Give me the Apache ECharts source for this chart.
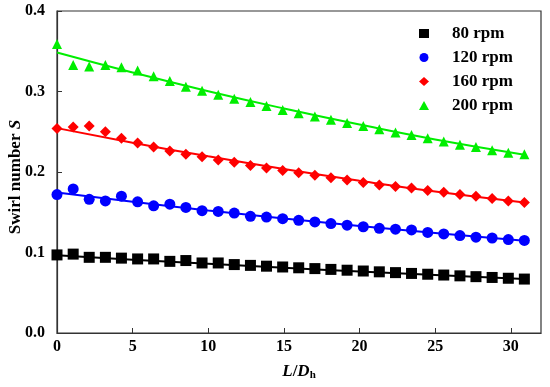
<!DOCTYPE html>
<html>
<head>
<meta charset="utf-8">
<script src="https://cdn.jsdelivr.net/npm/echarts@6/dist/echarts.min.js"></script>
<style>html,body{margin:0;padding:0;background:#fff;}#c{width:550px;height:387px;}</style>
</head>
<body>
<div id="c"></div>
<script>
const xs = [0, 1.07, 2.13, 3.2, 4.26, 5.33, 6.39, 7.46, 8.52, 9.59, 10.66, 11.72, 12.79, 13.85, 14.92, 15.98, 17.05, 18.11, 19.18, 20.25, 21.31, 22.38, 23.44, 24.51, 25.57, 26.64, 27.7, 28.77, 29.84, 30.9];
const s80 = [0.097,0.098,0.094,0.094,0.093,0.092,0.092,0.089,0.090,0.087,0.087,0.085,0.084,0.083,0.082,0.081,0.080,0.079,0.078,0.077,0.076,0.075,0.074,0.073,0.072,0.071,0.070,0.069,0.068,0.067];
const s120 = [0.172,0.179,0.166,0.164,0.170,0.163,0.158,0.160,0.156,0.152,0.151,0.149,0.145,0.144,0.142,0.140,0.138,0.136,0.134,0.132,0.130,0.129,0.128,0.125,0.123,0.121,0.119,0.118,0.116,0.115];
const s160 = [0.254,0.256,0.257,0.250,0.242,0.236,0.231,0.226,0.222,0.219,0.215,0.212,0.208,0.205,0.202,0.199,0.196,0.193,0.190,0.187,0.184,0.182,0.180,0.177,0.175,0.172,0.170,0.167,0.164,0.162];
const s200 = [0.359,0.333,0.331,0.333,0.330,0.326,0.319,0.313,0.306,0.301,0.296,0.291,0.287,0.282,0.277,0.273,0.269,0.265,0.261,0.257,0.253,0.249,0.246,0.242,0.238,0.234,0.231,0.227,0.224,0.222];

const fitX = [0, 5, 10, 15, 20, 25, 30.9];
const fit80 = [0.0965, 0.0910, 0.0859, 0.0810, 0.0765, 0.0721, 0.0672];
const fit120 = [0.1745, 0.1630, 0.1523, 0.1423, 0.1329, 0.1242, 0.1146];
const fit160 = [0.2545, 0.2364, 0.2195, 0.2038, 0.1892, 0.1757, 0.1620];
const fit200 = [0.3485, 0.3236, 0.3004, 0.2789, 0.2589, 0.2404, 0.2215];

const names = ['80 rpm', '120 rpm', '160 rpm', '200 rpm'];
const colors = ['#000000', '#0000ff', '#ff0000', '#00ee00'];
const symbols = ['rect', 'circle', 'diamond', 'triangle'];
const symSizes = [11, 11, 11, 10];
const dataSets = [s80, s120, s160, s200];
const fits = [fit80, fit120, fit160, fit200];

const serif = '"Liberation Serif", "Times New Roman", serif';
const series = [];
for (let k = 0; k < 4; k++) {
  series.push({
    name: names[k] + ' fit', type: 'line', data: fitX.map((x, i) => [x, fits[k][i]]),
    smooth: true, showSymbol: false, symbol: 'none', silent: true,
    lineStyle: { color: colors[k], width: 2 }, z: 2
  });
}
for (let k = 0; k < 4; k++) {
  series.push({
    name: names[k], type: 'scatter', data: xs.map((x, i) => [x, dataSets[k][i]]),
    symbol: symbols[k], symbolSize: symSizes[k],
    itemStyle: { color: colors[k], opacity: 1 }, z: 3
  });
}

const chart = echarts.init(document.getElementById('c'), null, { renderer: 'canvas' });
chart.setOption({
  animation: false,
  backgroundColor: '#fff',
  grid: { left: 57, right: 9, top: 11, bottom: 54, containLabel: false, outerBoundsMode: 'none',
    show: true, borderColor: '#333', borderWidth: 1.2, backgroundColor: 'transparent' },
  legend: {
    data: names, orient: 'vertical', left: 414, top: 20, itemWidth: 10, itemHeight: 9, itemGap: 7,
    textStyle: { fontFamily: serif, fontWeight: 'bold', fontSize: 17, color: '#000', padding: [0, 0, 0, 18] }
  },
  xAxis: {
    type: 'value', min: 0, max: 32, interval: 5,
    name: '{i|L}{n|/}{i|D}{s|h}', nameLocation: 'middle', nameGap: 29,
    nameTextStyle: {
      rich: {
        i: { fontFamily: serif, fontWeight: 'bold', fontStyle: 'italic', fontSize: 17, color: '#000' },
        n: { fontFamily: serif, fontWeight: 'bold', fontSize: 17, color: '#000' },
        s: { fontFamily: serif, fontWeight: 'bold', fontSize: 11, color: '#000', verticalAlign: 'bottom', padding: [8, 0, 0, 0] }
      }
    },
    axisLine: { show: true, lineStyle: { color: '#333', width: 1.2 } },
    axisTick: { inside: true, length: 5, lineStyle: { color: '#333' } },
    axisLabel: { showMaxLabel: false, margin: 6, fontFamily: serif, fontWeight: 'bold', fontSize: 16, color: '#000',
      formatter: v => (v <= 30 ? String(v) : '') },
    splitLine: { show: false }
  },
  yAxis: {
    type: 'value', min: 0, max: 0.4, interval: 0.1,
    name: '{n|Swirl number }{i|S}', nameLocation: 'middle', nameGap: 33, nameRotate: 90, nameMoveOverlap: false,
    nameTextStyle: {
      padding: [0, 10, 0, 0],
      rich: {
        i: { fontFamily: serif, fontWeight: 'bold', fontStyle: 'italic', fontSize: 17, color: '#000' },
        n: { fontFamily: serif, fontWeight: 'bold', fontSize: 17, color: '#000' }
      }
    },
    axisLine: { show: true, lineStyle: { color: '#333', width: 1.2 } },
    axisTick: { inside: true, length: 5, lineStyle: { color: '#333' } },
    axisLabel: { margin: 12, fontFamily: serif, fontWeight: 'bold', fontSize: 16, color: '#000',
      formatter: v => v.toFixed(1) },
    splitLine: { show: false }
  },
  series: series
});
</script>
</body>
</html>
